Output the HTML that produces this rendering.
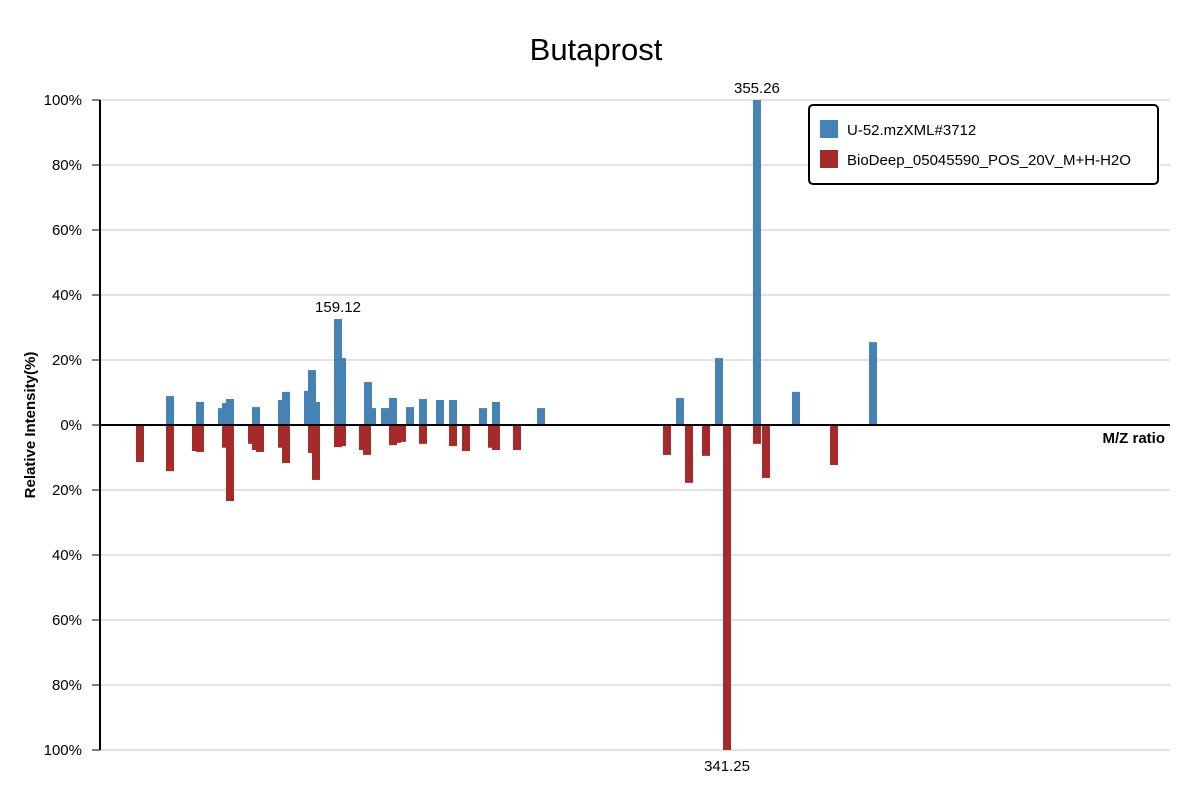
<!DOCTYPE html>
<html><head><meta charset="utf-8"><style>
body{margin:0;background:#fff;}
text{font-family:"Liberation Sans","DejaVu Sans",sans-serif;}
</style></head><body>
<svg id="chart" width="1200" height="800" xmlns="http://www.w3.org/2000/svg">
<text x="596" y="60" text-anchor="middle" font-size="31">Butaprost</text>
<g id="grid"></g>
<g id="bars"></g>
<g id="axes"></g>
<text x="1165" y="443" text-anchor="end" font-size="15" font-weight="bold">M/Z ratio</text>
<text transform="translate(35,425) rotate(-90)" text-anchor="middle" font-size="15" font-weight="bold">Relative Intensity(%)</text>
<g>
<rect x="809" y="105" width="349" height="79" rx="4" fill="#fff" stroke="#000" stroke-width="2"/>
<rect x="820" y="120" width="18" height="18" fill="#4682b4"/>
<text x="847" y="135" font-size="15">U-52.mzXML#3712</text>
<rect x="820" y="150" width="18" height="18" fill="#a52a2a"/>
<text x="847" y="165" font-size="15">BioDeep_05045590_POS_20V_M+H-H2O</text>
</g>
</svg>
<script>
const sampleMz=[80.47,94.51,104.81,106.69,108.56,120.73,132.90,134.78,145.08,146.95,148.82,159.12,160.99,173.16,175.04,181.12,184.87,192.83,198.91,206.87,212.96,227.00,233.09,254.16,319.23,337.49,355.26,373.54,409.59];
const sampleInt=[8.9,7.1,5.2,6.8,8.0,5.5,7.7,10.2,10.5,16.9,7.1,32.6,20.6,13.2,5.2,5.2,8.3,5.5,8.0,7.7,7.7,5.2,7.1,5.2,8.3,20.6,100,10.2,25.5];
const refMz=[66.42,80.47,92.64,94.51,106.69,108.56,118.86,120.73,122.60,132.90,134.78,146.95,148.82,159.12,160.99,170.82,172.70,184.87,186.74,189.08,198.91,212.96,219.05,231.22,233.09,242.92,313.15,323.45,331.40,341.25,355.26,359.49,391.33];
const refInt=[11.4,14.2,8.0,8.3,7.0,23.4,5.8,7.7,8.3,7.0,11.7,8.6,16.9,6.8,6.5,7.7,9.2,6.2,5.5,5.2,5.8,6.5,8.0,7.0,7.7,7.7,9.2,17.8,9.5,100,5.8,16.3,12.3];
const yTicks=[100,80,60,40,20,0,20,40,60,80,100];
const labelsTop=[159.12,355.26];
const labelsBottom=[341.25];

const NS="http://www.w3.org/2000/svg";
const X0=100,X1=1170,Y0=425,YH=325;
const xs=mz=>338+(mz-159.12)*2.136;
const yUp=v=>Y0-v/100*YH;
const yDn=v=>Y0+v/100*YH;
function mk(tag,attrs,parent){const e=document.createElementNS(NS,tag);for(const k in attrs)e.setAttribute(k,attrs[k]);parent.appendChild(e);return e;}
const grid=document.getElementById('grid'),bars=document.getElementById('bars'),axes=document.getElementById('axes');
yTicks.forEach((t,i)=>{
  const y=Y0+(i-5)/5*YH;
  if(i!==5){const g=mk('line',{x1:X0,x2:X1,y1:y,y2:y,stroke:'#e3e3e3','stroke-width':2},grid);
  
  }
  const tk=mk('line',{x1:92,x2:X0,y1:y,y2:y,stroke:'#000','stroke-width':1},axes);
  
  
  const tx=mk('text',{x:82,y:y+5,'text-anchor':'end','font-size':15},axes);
  tx.textContent=t+'%';
  
  
});
sampleMz.forEach((m,i)=>{
  const r=mk('rect',{x:xs(m)-4,y:yUp(sampleInt[i]),width:8,height:sampleInt[i]/100*YH,fill:'#4682b4'},bars);
  
  
});
refMz.forEach((m,i)=>{
  const r=mk('rect',{x:xs(m)-4,y:Y0,width:8,height:refInt[i]/100*YH,fill:'#a52a2a'},bars);
  
  
});
labelsTop.forEach(m=>{
  const i=sampleMz.indexOf(m);
  const t=mk('text',{x:xs(m),y:yUp(sampleInt[i])-7,'text-anchor':'middle','font-size':15},bars);
  t.textContent=m.toFixed(2);
  
  
});
labelsBottom.forEach(m=>{
  const i=refMz.indexOf(m);
  const t=mk('text',{x:xs(m),y:yDn(refInt[i])+21,'text-anchor':'middle','font-size':15},bars);
  t.textContent=m.toFixed(2);
  
  
});
const ya=mk('line',{x1:X0,x2:X0,y1:100,y2:750,stroke:'#000','stroke-width':2},axes);


const za=mk('line',{x1:X0,x2:X1,y1:Y0,y2:Y0,stroke:'#000','stroke-width':2},axes);


</script>
</body></html>
